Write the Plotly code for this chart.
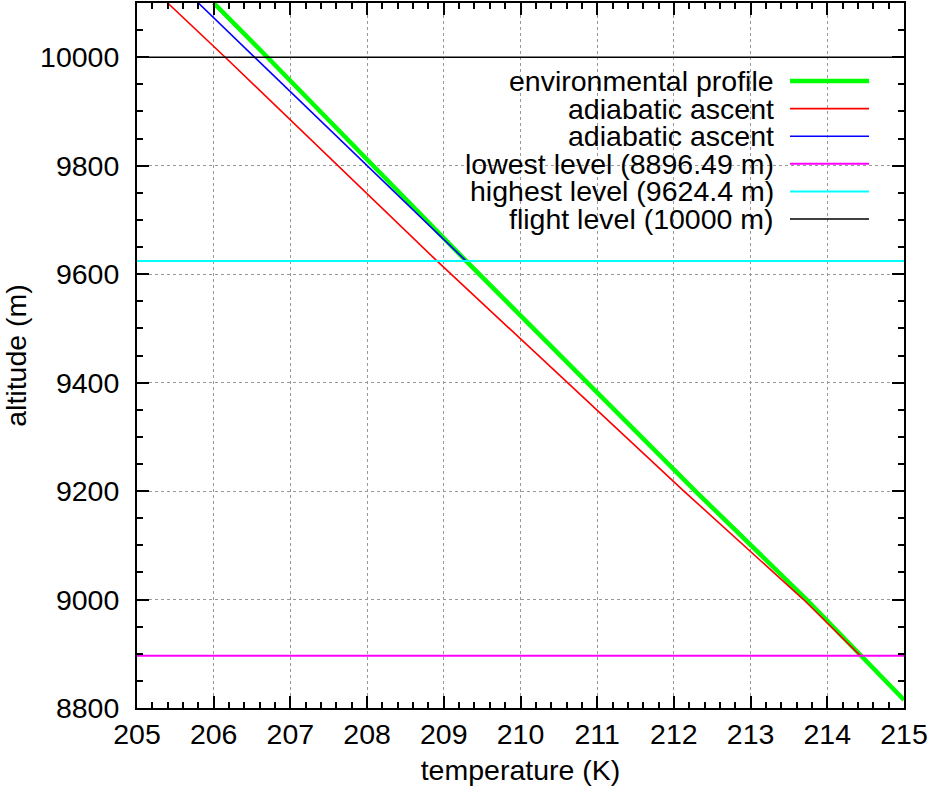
import plotly.graph_objects as go

# values
env_temp = [206.0, 206.7, 209.29, 212.28, 213.73, 214.43, 215.0]
env_alt = [10100, 10000, 9624.4, 9200, 9000, 8896.49, 8815]

ascent1_temp = [214.43, 213.69, 212.13, 208.91, 206.15, 205.40]
ascent1_alt = [8896.49, 9000, 9200, 9624.4, 10000, 10100]

ascent2_temp = [209.29, 206.53, 205.80]
ascent2_alt = [9624.4, 10000, 10100]

lowest_level = 8896.49
highest_level = 9624.4
flight_level = 10000
temp_range = [205, 215]

labels = ['environmental profile', 'adiabatic ascent', 'adiabatic ascent',
          'lowest level (8896.49 m)', 'highest level (9624.4 m)', 'flight level (10000 m)']
colors = ['#00ff00', '#ff0000', '#0000ff', '#ff00ff', '#00ffff', '#000000']
widths = [4.5, 1.6, 1.6, 2, 2, 1.6]

FONT = 'Liberation Sans, Arial, Helvetica, sans-serif'
FS = 28.5

fig = go.Figure()
fig.add_trace(go.Scatter(x=env_temp, y=env_alt, mode='lines',
                         line=dict(color=colors[0], width=widths[0])))
fig.add_trace(go.Scatter(x=ascent1_temp, y=ascent1_alt, mode='lines',
                         line=dict(color=colors[1], width=widths[1])))
fig.add_trace(go.Scatter(x=ascent2_temp, y=ascent2_alt, mode='lines',
                         line=dict(color=colors[2], width=widths[2])))
for lvl, c, w in zip([lowest_level, highest_level, flight_level], colors[3:], widths[3:]):
    fig.add_trace(go.Scatter(x=temp_range, y=[lvl, lvl], mode='lines',
                             line=dict(color=c, width=w)))

# gnuplot-style key: text right-aligned, sample line on the right
row0 = 81
step = 27.6
for i, (lab, c, w) in enumerate(zip(labels, colors, widths)):
    py = row0 + i * step
    yp = (708 - py) / 705
    fig.add_annotation(x=(775 - 137) / 767, y=yp, xref='paper', yref='paper',
                       text=lab, showarrow=False, xanchor='right', yanchor='middle',
                       borderpad=0,
                       font=dict(size=FS, color='black', family=FONT))
    fig.add_shape(type='line', xref='paper', yref='paper',
                  x0=(790 - 137) / 767, x1=(869 - 137) / 767, y0=yp, y1=yp,
                  line=dict(color=c, width=w))

axis_common = dict(
    showline=True, linecolor='black', linewidth=2, mirror='ticks',
    ticks='inside', ticklen=12, tickwidth=1.5, tickcolor='black',
    showgrid=True, gridcolor='#999999', griddash='dot', gridwidth=1,
    zeroline=False, tickfont=dict(size=FS, color='black', family=FONT),
)

fig.update_xaxes(range=temp_range, dtick=1, tick0=205,
                 minor=dict(ticks='inside', ticklen=6, dtick=0.2, tickcolor='black',
                            tickwidth=1.5, showgrid=False),
                 title=dict(text='temperature (K)', standoff=11,
                            font=dict(size=FS, color='black', family=FONT)),
                 ticklabelstandoff=0, **axis_common)
fig.update_yaxes(range=[8800, 10100], dtick=200, tick0=8800, tickformat='d',
                 minor=dict(ticks='inside', ticklen=6, dtick=50, tickcolor='black',
                            tickwidth=1.5, showgrid=False),
                 title=dict(text='altitude (m)', standoff=16,
                            font=dict(size=FS, color='black', family=FONT)),
                 ticklabelstandoff=10, **axis_common)

fig.update_layout(width=932, height=793, showlegend=False,
                  margin=dict(l=137, r=28, t=3, b=85, autoexpand=False),
                  plot_bgcolor='white', paper_bgcolor='white')

fig.write_html('out.html', config={'displayModeBar': False},
               post_script="document.body.style.margin='0px';")
